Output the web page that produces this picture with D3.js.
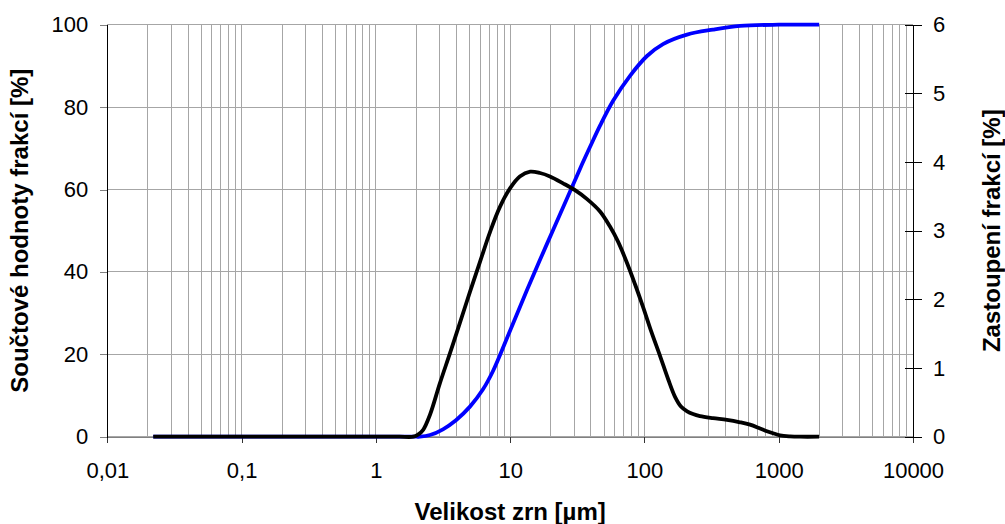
<!DOCTYPE html>
<html><head><meta charset="utf-8">
<script src="https://cdn.jsdelivr.net/npm/d3@7"></script>
<style>
html,body{margin:0;padding:0;background:#fff;}
svg{display:block;font-family:"Liberation Sans",Arial,sans-serif;}
</style></head>
<body>
<svg id="chart" width="1005" height="524"></svg>
<script>
// Fraction share (right axis, %)
const fracX = [0.022, 0.05, 0.1, 0.3, 0.6, 1, 1.5, 1.9, 2.06, 2.25, 2.53, 3.0, 3.57, 4.23, 5.02, 5.97, 7.08, 8.41, 10, 11.8, 14.1, 16.7, 19.8, 24.8, 30.4, 37.4, 46.7, 55.4, 63.6, 74.2, 85.1, 97.6, 112, 131, 150, 169, 187, 208, 230, 259, 324, 412, 515, 611, 726, 818, 907, 1022, 1214, 1441, 2000];
const fracY = [0, 0, 0, 0, 0, 0, 0, 0, 0.03, 0.10, 0.32, 0.78, 1.22, 1.66, 2.11, 2.55, 2.98, 3.35, 3.62, 3.79, 3.86, 3.84, 3.79, 3.69, 3.59, 3.46, 3.28, 3.06, 2.84, 2.53, 2.22, 1.89, 1.54, 1.17, 0.84, 0.58, 0.44, 0.37, 0.33, 0.30, 0.27, 0.245, 0.21, 0.175, 0.12, 0.08, 0.05, 0.02, 0.005, 0, 0];
// Cumulative (left axis, %)
const cumX = [0.022, 0.05, 0.1, 0.3, 0.6, 1, 1.5, 2.0, 2.13, 2.53, 3.16, 3.95, 5.02, 6.28, 7.47, 10, 13.35, 18.8, 26.5, 33.1, 39.3, 46.7, 58.3, 78.1, 104.5, 137.5, 207.6, 324, 515, 1000, 2000];
const cumY = [0, 0, 0, 0, 0, 0, 0, 0, 0, 0.4, 1.8, 4.0, 7.3, 11.5, 16.0, 25.8, 35.6, 46.8, 57.8, 65.0, 70.3, 75.5, 81.5, 87.6, 92.4, 95.3, 97.6, 98.8, 99.7, 100, 100];

const xTicks = [0.01, 0.1, 1, 10, 100, 1000, 10000];
const leftTicks = [0, 20, 40, 60, 80, 100];
const rightTicks = [0, 1, 2, 3, 4, 5, 6];
const xTitle = "Velikost zrn [µm]";
const leftTitle = "Součtové hodnoty frakcí [%]";
const rightTitle = "Zastoupení frakcí [%]";

const L = 107.3, R = 913, T = 24.7, B = 436.7;
const svg = d3.select("#chart");

const x = d3.scaleLog().domain([0.01, 10000]).range([L, R]);
const yL = d3.scaleLinear().domain([0, 100]).range([B, T]);
const yR = d3.scaleLinear().domain([0, 6]).range([B, T]);

const fmt = d => String(d).replace(".", ",");

// gridlines
const minor = [];
[0.01, 0.1, 1, 10, 100, 1000].forEach(d => { for (let k = 1; k <= 9; k++) minor.push(k * d); });
minor.push(10000);
svg.append("g").selectAll("line").data(minor).join("line")
  .attr("x1", d => x(d)).attr("x2", d => x(d))
  .attr("y1", T).attr("y2", B)
  .attr("stroke", "#a6a6a6").attr("stroke-width", 1).attr("shape-rendering", "crispEdges");
svg.append("g").selectAll("line").data(leftTicks).join("line")
  .attr("x1", L).attr("x2", R)
  .attr("y1", d => yL(d)).attr("y2", d => yL(d))
  .attr("stroke", "#a6a6a6").attr("stroke-width", 1).attr("shape-rendering", "crispEdges");

// axes
const gx = svg.append("g").attr("transform", `translate(0,${B})`)
  .call(d3.axisBottom(x).tickValues(xTicks).tickFormat(fmt).tickSize(6).tickPadding(20));
gx.select(".domain").attr("stroke", "#808080");
gx.selectAll(".tick line").attr("stroke", "#333");

const gl = svg.append("g").attr("transform", `translate(${L},0)`)
  .call(d3.axisLeft(yL).tickValues(leftTicks).tickFormat(fmt).tickSize(7).tickPadding(12));
gl.select(".domain").attr("stroke", "#000");
gl.selectAll(".tick line").attr("stroke", "#808080");

const gr = svg.append("g").attr("transform", `translate(${R},0)`)
  .call(d3.axisRight(yR).tickValues(rightTicks).tickFormat(fmt).tickSize(9).tickPadding(11));
gr.select(".domain").attr("stroke", "#000");
gr.selectAll(".tick line").attr("x1", -8).attr("stroke", "#000");

svg.selectAll(".tick text").attr("font-size", 22).attr("fill", "#000")
  .attr("font-family", '"Liberation Sans",Arial,sans-serif');
svg.selectAll(".domain").attr("shape-rendering", "crispEdges");
svg.selectAll(".tick line").attr("shape-rendering", "crispEdges");

// lines
const cumData = cumX.map((d, i) => [d, cumY[i]]);
const fracData = fracX.map((d, i) => [d, fracY[i]]);
svg.append("path").datum(cumData)
  .attr("fill", "none").attr("stroke", "#0000ff").attr("stroke-width", 3.8)
  .attr("stroke-linejoin", "round")
  .attr("d", d3.line().x(d => x(d[0])).y(d => yL(d[1])).curve(d3.curveCatmullRom.alpha(0.5)));
svg.append("path").datum(fracData)
  .attr("fill", "none").attr("stroke", "#000").attr("stroke-width", 3.8)
  .attr("stroke-linejoin", "round")
  .attr("d", d3.line().x(d => x(d[0])).y(d => yR(d[1])).curve(d3.curveCatmullRom.alpha(0.5)));

// titles
svg.append("text").attr("x", (L + R) / 2).attr("y", 520)
  .attr("text-anchor", "middle").attr("font-size", 24).attr("font-weight", "bold").text(xTitle);
svg.append("text").attr("transform", `translate(28,${(T + B) / 2}) rotate(-90)`)
  .attr("text-anchor", "middle").attr("font-size", 24).attr("font-weight", "bold").text(leftTitle);
svg.append("text").attr("transform", `translate(1000,${(T + B) / 2}) rotate(-90)`)
  .attr("text-anchor", "middle").attr("font-size", 24).attr("font-weight", "bold").text(rightTitle);
</script>
</body></html>
